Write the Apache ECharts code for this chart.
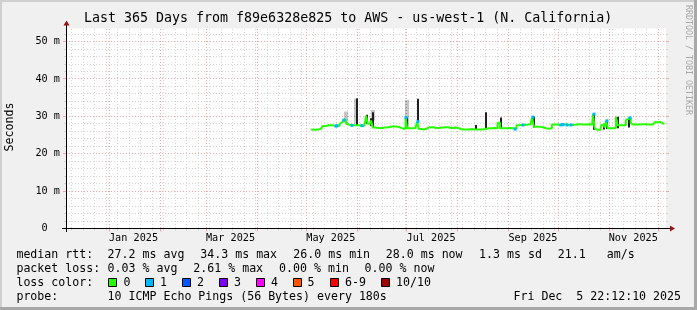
<!DOCTYPE html>
<html><head><meta charset="utf-8">
<script src="https://cdn.jsdelivr.net/npm/echarts@6/dist/echarts.min.js"></script>
<style>html,body{margin:0;padding:0;background:#f0f0f0}#c{width:697px;height:310px}</style>
</head><body><div id="c"></div>
<script>
// ---------- DATA ----------
const titleText = 'Last 365 Days from f89e6328e825 to AWS - us-west-1 (N. California)';
const unitText = 'Seconds';
const watermark = 'RRDTOOL / TOBI OETIKER';
const startTime = '2024-12-05T22:12:10';
const endTime = '2025-12-05T22:12:10';
const monthLabels = ['Jan 2025', 'Mar 2025', 'May 2025', 'Jul 2025', 'Sep 2025', 'Nov 2025'];
const monthLabelDates = ['2025-01-16', '2025-03-16', '2025-05-16', '2025-07-16', '2025-09-16', '2025-11-16'];
const monthStarts = ['2025-01-01','2025-02-01','2025-03-01','2025-04-01','2025-05-01','2025-06-01','2025-07-01','2025-08-01','2025-09-01','2025-10-01','2025-11-01','2025-12-01'];
const yMajorTicks = [0, 10, 20, 30, 40, 50];
const yMax = 53.5;

// median rtt (ms) and loss count per sample
const medDates = [
 '2025-05-04','2025-05-06','2025-05-08','2025-05-10','2025-05-12','2025-05-14','2025-05-16','2025-05-18','2025-05-19','2025-05-20',
 '2025-05-21','2025-05-22','2025-05-23','2025-05-24','2025-05-25','2025-05-26','2025-05-27','2025-05-28','2025-05-29','2025-05-30',
 '2025-05-31','2025-06-01','2025-06-02','2025-06-04','2025-06-05','2025-06-06','2025-06-07','2025-06-08','2025-06-09','2025-06-10',
 '2025-06-11','2025-06-13','2025-06-15','2025-06-17','2025-06-19','2025-06-21','2025-06-23','2025-06-25','2025-06-27','2025-06-28',
 '2025-06-30','2025-07-01','2025-07-02','2025-07-04','2025-07-06','2025-07-07','2025-07-08','2025-07-09','2025-07-11','2025-07-13',
 '2025-07-16','2025-07-19','2025-07-22','2025-07-25','2025-07-28','2025-07-31','2025-08-02','2025-08-04','2025-08-07','2025-08-10',
 '2025-08-11','2025-08-13','2025-08-15','2025-08-17','2025-08-19','2025-08-21','2025-08-23','2025-08-25','2025-08-26','2025-08-28',
 '2025-08-30','2025-09-01','2025-09-03','2025-09-05','2025-09-07','2025-09-08','2025-09-10','2025-09-12','2025-09-14','2025-09-15',
 '2025-09-16','2025-09-17','2025-09-19','2025-09-21','2025-09-23','2025-09-25','2025-09-27','2025-09-28','2025-09-30','2025-10-02',
 '2025-10-03','2025-10-04','2025-10-06','2025-10-07','2025-10-09','2025-10-11','2025-10-14','2025-10-17','2025-10-20','2025-10-22',
 '2025-10-23','2025-10-24','2025-10-25','2025-10-27','2025-10-28','2025-10-29','2025-10-30','2025-10-31','2025-11-01','2025-11-03',
 '2025-11-05','2025-11-06','2025-11-07','2025-11-09','2025-11-11','2025-11-12','2025-11-13','2025-11-14','2025-11-15','2025-11-16',
 '2025-11-19','2025-11-22','2025-11-25','2025-11-28','2025-11-30','2025-12-02','2025-12-03','2025-12-04','2025-12-05'
];
const medValues = [
 26.5,26.4,26.5,26.6,27.4,27.6,27.6,27.5,27.4,27.5,
 27.5,28.1,28.4,29.0,29.2,28.0,27.8,27.6,27.6,27.6,
 27.6,27.7,27.6,27.5,27.5,27.6,30.2,28.0,28.0,28.9,
 27.0,26.9,26.9,27.0,27.1,27.3,27.3,27.2,27.0,26.7,
 26.7,29.7,26.8,26.8,26.9,26.8,28.6,26.6,26.5,27.0,
 27.1,26.9,27.0,27.1,26.9,27.0,26.8,26.5,26.5,26.6,
 26.5,26.5,26.5,26.6,26.8,26.8,26.9,26.8,28.3,26.8,
 26.8,26.9,26.8,26.6,27.6,27.7,27.7,27.8,27.9,27.8,
 29.8,27.2,27.2,27.1,26.8,26.7,26.8,27.8,27.8,27.7,
 27.7,27.8,27.8,27.7,27.7,27.8,27.9,27.8,27.9,27.8,
 30.6,26.9,26.4,26.4,27.6,27.8,27.0,28.8,26.8,26.8,
 26.9,29.9,27.6,27.6,27.6,29.0,29.3,29.6,28.2,27.8,
 27.8,27.9,27.8,27.8,28.4,28.5,28.3,28.1,28.0
];
const medLoss = [
 0,0,0,0,0,0,0,0,1,1,
 0,0,0,1,0,0,0,0,1,0,
 0,0,0,1,0,0,0,0,0,0,
 0,0,0,0,0,0,0,0,0,0,
 0,1,0,0,0,0,1,0,0,0,
 0,0,0,0,0,0,0,0,0,0,
 0,0,0,0,0,0,0,0,0,0,
 0,0,0,1,0,0,1,0,0,0,
 1,0,0,0,0,0,0,0,0,0,
 1,1,0,1,1,0,0,0,0,0,
 1,0,0,0,0,0,0,1,0,0,
 0,0,0,0,0,0,0,1,0,0,
 0,0,0,0,0,0,0,0,0
];

// dark smoke spikes (ms)
const spikeDates = ['2025-05-31T16:00','2025-06-07T05:00','2025-06-09T15:00','2025-06-10T20:00','2025-07-01T13:00','2025-07-08T05:00',
 '2025-08-12T12:00','2025-08-18T04:00','2025-08-27T07:00','2025-09-16T09:00','2025-10-23T01:00','2025-10-28T23:00',
 '2025-10-31T05:00','2025-11-06T16:00','2025-11-13T12:00'];
const spikeLow  = [27.6,28.0,27.5,27.0,26.8,28.6,26.6,26.5,26.8,27.0,26.4,26.5,26.6,26.8,27.0];
const spikeHigh = [34.8,30.4,29.5,31.1,29.7,34.7,27.7,31.1,29.7,29.9,30.6,28.0,28.8,29.9,29.6];

// light smoke (ms)
const smokeDates = ['2025-05-25T00:00','2025-05-31T12:00','2025-06-10T20:00','2025-07-01T12:00'];
const smokeLow  = [28.2,28.0,29.0,26.8];
const smokeHigh = [31.3,34.8,31.7,34.4];

// legend
const rttLabel = 'median rtt:';
const rttItems = ['27.2 ms avg','34.3 ms max','26.0 ms min','28.0 ms now','1.3 ms sd','21.1','am/s'];
const lossLabel = 'packet loss:';
const lossItems = ['0.03 % avg','2.61 % max','0.00 % min','0.00 % now'];
const lossColorLabel = 'loss color:';
const lossColorNames = ['0','1','2','3','4','5','6-9','10/10'];
const lossColors = ['#26ff00','#00b8ff','#0059ff','#7e00ff','#ff00ff','#ff5500','#ff0000','#a10000'];
const probeLabel = 'probe:';
const probeText = '10 ICMP Echo Pings (56 Bytes) every 180s';
const dateText = 'Fri Dec  5 22:12:10 2025';

// ---------- LAYOUT / STYLE ----------
const MONO = '"DejaVu Sans Mono", monospace';
const G = {left: 66, top: 28.5, width: 600, height: 200};
const minorGrid = '#d4d4d4', majorGrid = '#f3a6a6';
const rttX = [107.6, 200.3, 293.3, 385.8, 479.1, 557.8, 606.7];
const lossX = [107.6, 193.3, 279.1, 364.6];
const boxX = [108, 145, 182, 219, 256, 293, 330, 381];
const boxLabelX = [123.6, 160, 197, 234, 271, 307.6, 345, 396];
const rowY = [254.5, 268.5, 282.5, 296.5];

const t = s => Date.parse(s.length === 10 ? s + 'T00:00:00Z' : s + (s.length === 16 ? ':00Z' : 'Z'));
const T0 = t(startTime), T1 = t(endTime);

// weekly (Monday) grid positions
const weekTimes = [];
for (let w = Date.UTC(2024, 11, 9); w < T1; w += 7 * 864e5) weekTimes.push([w, 0]);
const minorY = [];
for (let v = 2; v <= 52; v += 2) if (v % 10) minorY.push([T0, v]);
const majorY = yMajorTicks.filter(v => v > 0).map(v => [T0, v]);

function vGrid(color, tick) {
  return function (p, api) {
    const b = api.coord([api.value(0), 0]);
    const top = api.coord([api.value(0), yMax]);
    const x = Math.round(b[0]) + 0.5;
    const y0 = Math.floor(b[1]) + 0.5;
    return {type: 'group', children: [
      {type: 'line', shape: {x1: x, y1: Math.round(top[1]), x2: x, y2: y0}, style: {stroke: color, lineWidth: 1, lineDash: [1, 2]}},
      {type: 'line', shape: {x1: x, y1: y0, x2: x, y2: y0 + tick}, style: {stroke: color, lineWidth: 1}}
    ]};
  };
}
function hGrid(color, tick) {
  return function (p, api) {
    const a = api.coord([T0, api.value(1)]);
    const b = api.coord([T1, api.value(1)]);
    const y = Math.floor(a[1]) + 0.5;
    return {type: 'group', children: [
      {type: 'line', shape: {x1: Math.round(a[0]), y1: y, x2: b[0], y2: y}, style: {stroke: color, lineWidth: 1, lineDash: [1, 2]}},
      {type: 'line', shape: {x1: a[0] - tick, y1: y, x2: a[0], y2: y}, style: {stroke: color, lineWidth: 1}},
      {type: 'line', shape: {x1: b[0], y1: y, x2: b[0] + tick, y2: y}, style: {stroke: color, lineWidth: 1}}
    ]};
  };
}
function txt(text, x, y, size, align, extra) {
  return Object.assign({type: 'text', x: x, y: y, silent: true,
    style: {text: text, font: size + 'px ' + MONO, fill: '#000', align: align || 'left', verticalAlign: 'middle',
      textAlign: align || 'left', textVerticalAlign: 'middle'}}, extra || {});
}

const graphics = [
  // frame
  {type: 'line', shape: {x1: 0, y1: 1, x2: 697, y2: 1}, style: {stroke: '#cfcfcf', lineWidth: 2}},
  {type: 'line', shape: {x1: 1, y1: 0, x2: 1, y2: 310}, style: {stroke: '#cfcfcf', lineWidth: 2}},
  {type: 'line', shape: {x1: 695.5, y1: 0, x2: 695.5, y2: 310}, style: {stroke: '#a8a8a8', lineWidth: 3}},
  {type: 'line', shape: {x1: 0, y1: 308.5, x2: 697, y2: 308.5}, style: {stroke: '#a8a8a8', lineWidth: 3}},
  // axes
  {type: 'line', z: 50, shape: {x1: 62, y1: 228.5, x2: 670, y2: 228.5}, style: {stroke: '#000', lineWidth: 1}},
  {type: 'line', z: 50, shape: {x1: 66.5, y1: 232, x2: 66.5, y2: 25}, style: {stroke: '#000', lineWidth: 1}},
  {type: 'polygon', z: 51, shape: {points: [[670, 225.5], [675, 228.5], [670, 231.5]]}, style: {fill: '#a01010'}},
  {type: 'polygon', z: 51, shape: {points: [[63.5, 25.5], [66.5, 20.5], [69.5, 25.5]]}, style: {fill: '#a01010'}},
  // titles
  txt(titleText, 84, 19, 13.3, 'left'),
  txt(unitText, 10, 127, 11.6, 'center', {rotation: Math.PI / 2}),
  {type: 'text', x: 688, y: 60, rotation: -Math.PI / 2, silent: true,
   style: {text: watermark, font: '8.3px ' + MONO, fill: '#a8a8a8', align: 'center', verticalAlign: 'middle', textAlign: 'center', textVerticalAlign: 'middle'}},
  // legend rows
  txt(rttLabel, 16.4, rowY[0], 11.6),
  txt(lossLabel, 16.4, rowY[1], 11.6),
  txt(lossColorLabel, 16.4, rowY[2], 11.6),
  txt(probeLabel, 16.4, rowY[3], 11.6),
  txt(probeText, 107.6, rowY[3], 11.6),
  txt(dateText, 681, rowY[3], 11.6, 'right')
];
rttItems.forEach((s, i) => graphics.push(txt(s, rttX[i], rowY[0], 11.6)));
lossItems.forEach((s, i) => graphics.push(txt(s, lossX[i], rowY[1], 11.6)));
lossColorNames.forEach((s, i) => {
  graphics.push({type: 'rect', shape: {x: boxX[i] + 0.5, y: 278.5, width: 8, height: 8},
    style: {fill: lossColors[i], stroke: '#000', lineWidth: 1}});
  graphics.push(txt(s, boxLabelX[i], rowY[2], 11.6));
});

const chart = echarts.init(document.getElementById('c'), null, {renderer: 'canvas', width: 697, height: 310});
chart.setOption({
  useUTC: true,
  animation: false,
  backgroundColor: '#f0f0f0',
  grid: {left: G.left, top: G.top, width: G.width, height: G.height, show: true, backgroundColor: '#ffffff', borderWidth: 0},
  xAxis: {type: 'time', min: T0, max: T1, axisLine: {show: false}, axisTick: {show: false}, axisLabel: {show: false}, splitLine: {show: false}},
  yAxis: {type: 'value', min: 0, max: yMax, interval: 10,
    axisLine: {show: false}, axisTick: {show: false}, splitLine: {show: false},
    axisLabel: {show: true, showMaxLabel: false, margin: 6, color: '#000', fontFamily: MONO, fontSize: 10.2,
      formatter: v => (yMajorTicks.indexOf(v) < 0 ? '' : (v === 0 ? '0\u00a0\u00a0' : v + ' m'))}},
  series: [
    {type: 'custom', name: 'weeks', z: 1, clip: false, silent: true, encode: {x: 0, y: 1},
     data: weekTimes, renderItem: vGrid(minorGrid, 2)},
    {type: 'custom', name: 'minorY', z: 1, clip: false, silent: true, encode: {x: 0, y: 1},
     data: minorY, renderItem: hGrid(minorGrid, 2)},
    {type: 'custom', name: 'months', z: 2, clip: false, silent: true, encode: {x: 0, y: 1},
     data: monthStarts.map(s => [t(s), 0]), renderItem: vGrid(majorGrid, 3)},
    {type: 'custom', name: 'majorY', z: 2, clip: false, silent: true, encode: {x: 0, y: 1},
     data: majorY, renderItem: hGrid(majorGrid, 3)},
    {type: 'custom', name: 'xlabels', z: 3, clip: false, silent: true, encode: {x: 0, y: 1},
     data: monthLabelDates.map(s => [t(s), 0]),
     renderItem: (p, api) => {
       const c = api.coord([api.value(0), 0]);
       return {type: 'text', x: c[0], y: c[1] + 9.5,
         style: {text: monthLabels[p.dataIndex], font: '10.2px ' + MONO, fill: '#000', align: 'center', verticalAlign: 'middle', textAlign: 'center', textVerticalAlign: 'middle'}};
     }},
    {type: 'custom', name: 'smoke', z: 4, silent: true, encode: {x: 0, y: [1, 2]},
     data: smokeDates.map((d, i) => [t(d), smokeLow[i], smokeHigh[i]]),
     renderItem: (p, api) => {
       const a = api.coord([api.value(0), api.value(1)]);
       const b = api.coord([api.value(0), api.value(2)]);
       return {type: 'rect', shape: {x: Math.round(a[0]) - 2, y: b[1], width: 4, height: a[1] - b[1]}, style: {fill: 'rgba(0,0,0,0.22)'}};
     }},
    {type: 'custom', name: 'spikes', z: 5, silent: true, encode: {x: 0, y: [1, 2]},
     data: spikeDates.map((d, i) => [t(d), spikeLow[i], spikeHigh[i]]),
     renderItem: (p, api) => {
       const a = api.coord([api.value(0), api.value(1)]);
       const b = api.coord([api.value(0), api.value(2)]);
       const x = Math.round(a[0]);
       return {type: 'line', shape: {x1: x, y1: a[1], x2: x, y2: b[1]}, style: {stroke: '#202020', lineWidth: 2}};
     }},
    {type: 'line', name: 'median', z: 6, step: 'middle', showSymbol: false, silent: true,
     data: medDates.map((d, i) => [t(d), medValues[i]]),
     lineStyle: {color: '#26ff00', width: 2}},
    {type: 'custom', name: 'loss1', z: 7, silent: true, encode: {x: 0, y: 1},
     data: medDates.map((d, i) => [t(d), medValues[i], medLoss[i]]).filter(r => r[2] > 0),
     renderItem: (p, api) => {
       const c = api.coord([api.value(0), api.value(1)]);
       return {type: 'rect', shape: {x: Math.round(c[0]) - 1.5, y: c[1] - 1.5, width: 3, height: 3}, style: {fill: lossColors[api.value(2)]}};
     }}
  ],
  graphic: graphics
});
</script>
</body></html>
